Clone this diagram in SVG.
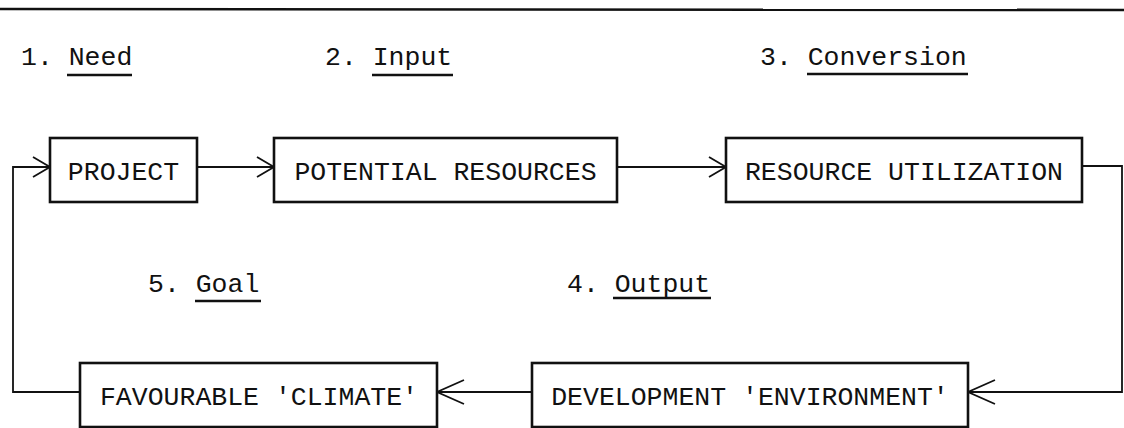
<svg xmlns="http://www.w3.org/2000/svg" width="1124" height="428" viewBox="0 0 1124 428">
  <style>
    .box { fill: #fff; stroke: #111; stroke-width: 2.6; }
    .lbl { font-family: "Liberation Mono", "DejaVu Sans Mono", monospace; font-size: 26.5px; fill: #111; }
    .ul { stroke: #111; stroke-width: 2.6; }
    .con { fill: none; stroke: #111; stroke-width: 1.8; }
  </style>
  <defs>
    <marker id="arrS" viewBox="-20 -12 22 24" markerWidth="22" markerHeight="24" refX="0" refY="0" orient="auto" markerUnits="userSpaceOnUse" overflow="visible">
      <path d="M-17,-10 L0,0 L-17,10" fill="none" stroke="#111" stroke-width="1.8"/>
    </marker>
    <marker id="arrL" viewBox="-30 -15 32 30" markerWidth="32" markerHeight="30" refX="0" refY="0" orient="auto" markerUnits="userSpaceOnUse" overflow="visible">
      <path d="M-27,-12 L0,0 L-27,12" fill="none" stroke="#111" stroke-width="1.8"/>
    </marker>
  </defs>
  <rect width="1124" height="428" fill="#fff"/>

  <line x1="0" y1="9" x2="1124" y2="10" stroke="#111" stroke-width="2.6"/>

  <g id="labels">
    <text class="lbl" x="21" y="65">1. Need</text>
    <line class="ul" x1="67" y1="75" x2="132" y2="75"/>
    <text class="lbl" x="325" y="65">2. Input</text>
    <line class="ul" x1="372" y1="75" x2="453" y2="75"/>
    <text class="lbl" x="760" y="65">3. Conversion</text>
    <line class="ul" x1="807" y1="74" x2="968" y2="74"/>
    <text class="lbl" x="148" y="292">5. Goal</text>
    <line class="ul" x1="195" y1="301" x2="261" y2="301"/>
    <text class="lbl" x="567" y="292">4. Output</text>
    <line class="ul" x1="613" y1="298" x2="711" y2="298"/>
  </g>

  <g id="connectors">
    <polyline class="con" points="80,392 13,392 13,167 50,167" marker-end="url(#arrS)"/>
    <line class="con" x1="197" y1="167" x2="274" y2="167" marker-end="url(#arrS)"/>
    <line class="con" x1="617" y1="167" x2="726" y2="167" marker-end="url(#arrS)"/>
    <polyline class="con" points="1082,166 1122,166 1122,392 968,392" marker-end="url(#arrL)"/>
    <line class="con" x1="532" y1="392" x2="437" y2="392" marker-end="url(#arrL)"/>
  </g>

  <g id="project">
    <rect class="box" x="50" y="138" width="147" height="64"/>
    <text class="lbl" x="123.5" y="180" text-anchor="middle">PROJECT</text>
  </g>
  <g id="potential-resources">
    <rect class="box" x="274" y="138" width="343" height="64"/>
    <text class="lbl" x="445.5" y="180" text-anchor="middle">POTENTIAL RESOURCES</text>
  </g>
  <g id="resource-utilization">
    <rect class="box" x="726" y="138" width="356" height="64"/>
    <text class="lbl" x="904" y="180" text-anchor="middle">RESOURCE UTILIZATION</text>
  </g>
  <g id="favourable-climate">
    <rect class="box" x="80" y="363" width="357" height="64"/>
    <text class="lbl" x="259" y="405" text-anchor="middle">FAVOURABLE 'CLIMATE'</text>
  </g>
  <g id="development-environment">
    <rect class="box" x="532" y="363" width="436" height="64"/>
    <text class="lbl" x="750" y="405" text-anchor="middle">DEVELOPMENT 'ENVIRONMENT'</text>
  </g>
</svg>
